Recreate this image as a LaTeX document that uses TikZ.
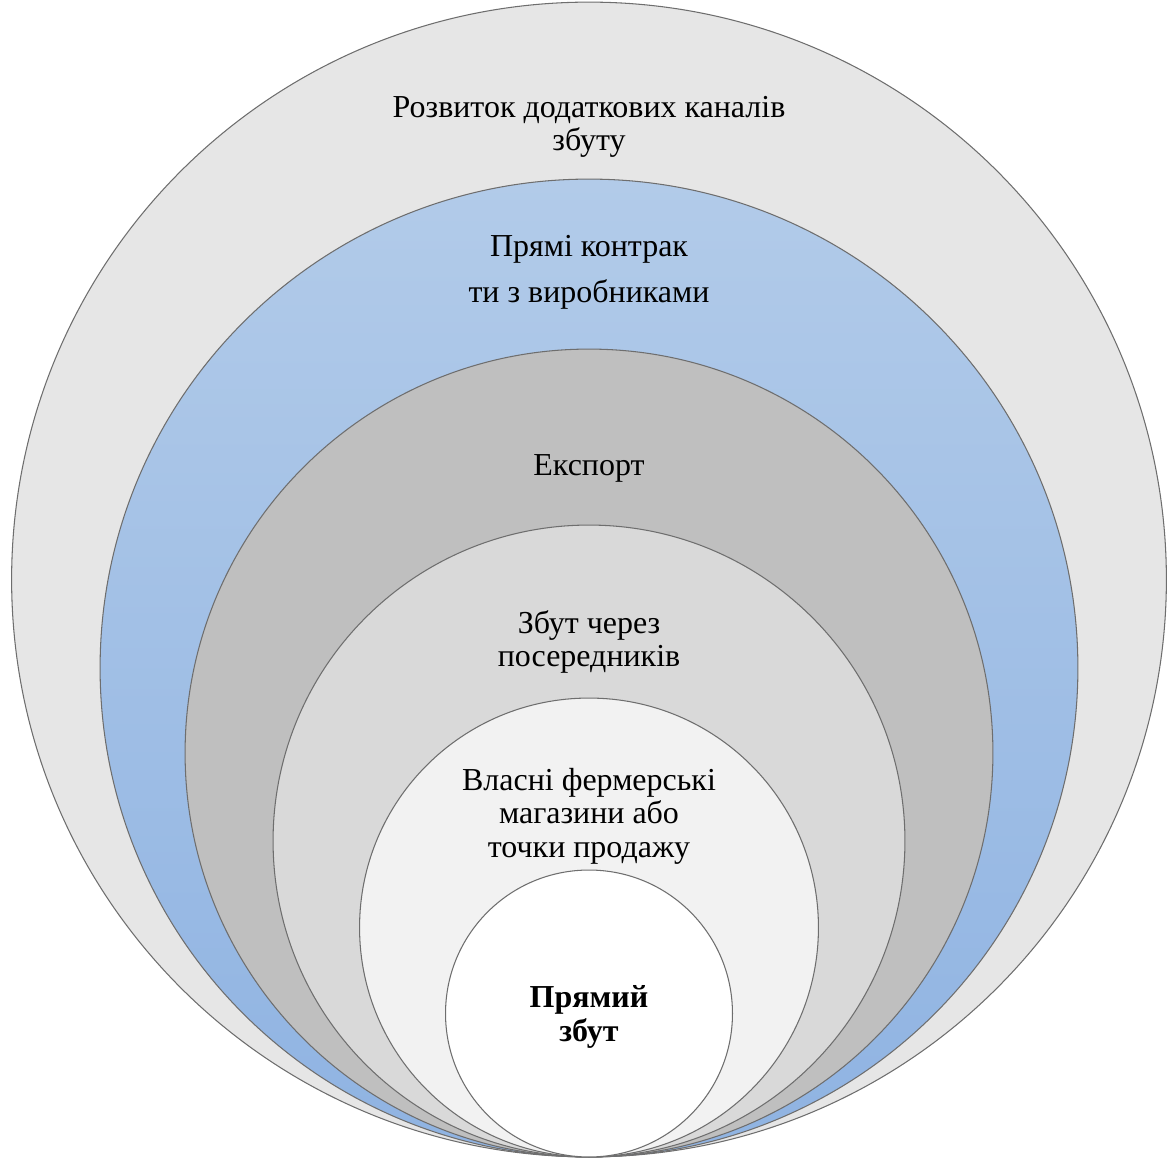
\documentclass[tikz,border=0pt]{standalone}
\usepackage{fontspec}
\setmainfont{Liberation Serif}
\definecolor{outergray}{HTML}{E6E6E6}
\definecolor{bluetop}{HTML}{B2CBE9}
\definecolor{bluebottom}{HTML}{8FB3E2}
\definecolor{darkgray}{HTML}{BFBFBF}
\definecolor{midgray}{HTML}{D9D9D9}
\definecolor{lightgray}{HTML}{F2F2F2}
\definecolor{ringline}{HTML}{6E6E6E}
\tikzset{
    ring/.style     = {draw=ringline, line width=0.6pt},
    ringtext/.style = {align=center, font=\fontsize{18.2}{19}\selectfont},
}

\begin{document}
\begin{tikzpicture}[x=0.02cm, y=-0.02cm]
            \useasboundingbox (0,0) rectangle (1170,1159);
            \filldraw   [ring, fill=outergray]                          (589,579.5) circle (11.55cm);   % Outer circle
            \shadedraw  [ring, top color=bluetop, bottom color=bluebottom] (589,668) circle (9.78cm);  % Blue circle
            \filldraw   [ring, fill=darkgray]                           (589,753)   circle (8.08cm);    % Export circle
            \filldraw   [ring, fill=midgray]                            (589,841)   circle (6.32cm);    % Intermediaries circle
            \filldraw   [ring, fill=lightgray]                          (589,927.5) circle (4.59cm);    % Own shops circle
            \filldraw   [ring, fill=white]                              (589,1013.5) circle (2.87cm);   % Inner circle

            \node   [ringtext]  (develop)   at (589,127)  {Розвиток додаткових каналів\\збуту};
            \node   [ringtext, font=\fontsize{18.2}{26.2}\selectfont]
                                (contracts) at (589,272)  {Прямі контрак\\ти з виробниками};
            \node   [ringtext]  (export)    at (589,468)  {Експорт};
            \node   [ringtext]  (middle)    at (589,642)  {Збут через\\посередників};
            \node   [ringtext]  (shops)     at (589,816)  {Власні фермерські\\магазини або\\точки продажу};
            \node   [ringtext, font=\fontsize{18.2}{19}\selectfont\bfseries]
                                (direct)    at (589,1017) {Прямий\\збут};
\end{tikzpicture}
\end{document}
